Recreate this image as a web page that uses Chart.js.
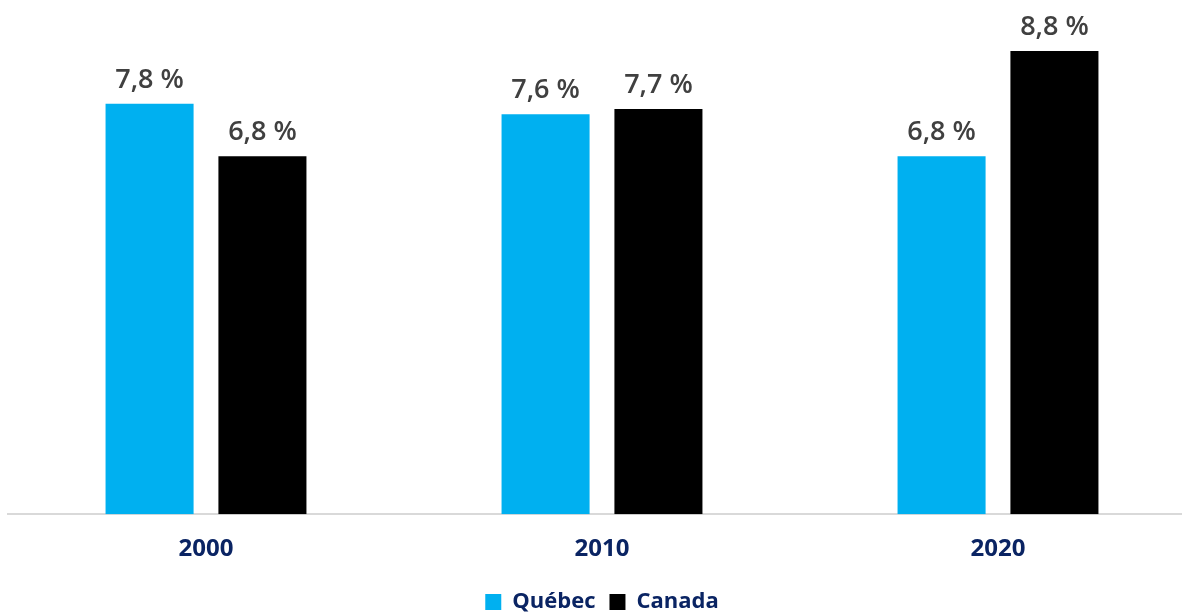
<!DOCTYPE html>
<html>
<head>
<meta charset="utf-8">
<script src="https://cdn.jsdelivr.net/npm/chart.js@4/dist/chart.umd.min.js"></script>
<style>
  html, body { margin: 0; padding: 0; background: #fff; overflow: hidden; }
  #wrap { width: 1182px; height: 613px; overflow: hidden; }
  #box { width: 1214px; height: 623px; }
</style>
</head>
<body>
<div id="wrap"><div id="box"><canvas id="chart"></canvas></div></div>
<script>
const years = ['2000', '2010', '2020'];
const quebec = [7.8, 7.6, 6.8];
const canada = [6.8, 7.7, 8.8];

// Étiquettes de valeurs au-dessus des barres
const valueLabels = {
    id: 'valueLabels',
    afterDatasetsDraw: (chart) => {
        const ctx = chart.ctx;
        ctx.save();
        ctx.font = '600 27px "Open Sans"';
        ctx.fillStyle = '#404040';
        ctx.textAlign = 'center';
        ctx.textBaseline = 'alphabetic';
        chart.data.datasets.forEach((ds, i) => {
            chart.getDatasetMeta(i).data.forEach((bar, j) => {
                const txt = ds.data[j].toFixed(1).replace('.', ',') + '\u00a0%';
                ctx.fillText(txt, bar.x, bar.y - 16);
            });
        });
        ctx.restore();
    }
};

const ctx = document.getElementById('chart').getContext('2d');

new Chart(ctx, {
    type: 'bar',
    data: {
        labels: years,
        datasets: [
            {
                label: 'Québec',
                data: quebec,
                backgroundColor: '#00b0f0',
                barPercentage: 0.78,
                categoryPercentage: 0.57
            },
            {
                label: 'Canada',
                data: canada,
                backgroundColor: '#000000',
                barPercentage: 0.78,
                categoryPercentage: 0.57
            }
        ]
    },
    options: {
        responsive: true,
        maintainAspectRatio: false,
        animation: false,
        layout: { padding: { left: 8, right: 18, top: 0, bottom: 0 } },
        plugins: {
            legend: {
                position: 'bottom',
                labels: {
                    color: '#0a2463',
                    font: { family: 'Open Sans', size: 22, weight: 'bold' },
                    boxWidth: 16,
                    boxHeight: 16,
                    padding: 14
                }
            },
            tooltip: { enabled: false }
        },
        scales: {
            x: {
                grid: { display: false },
                border: { display: true, color: '#d9d9d9', width: 2 },
                ticks: {
                    color: '#0a2463',
                    font: { family: 'Open Sans', size: 24, weight: 'bold' },
                    padding: 13
                }
            },
            y: {
                display: false,
                min: 0,
                max: 9.77
            }
        }
    },
    plugins: [valueLabels]
});
</script>
</body>
</html>
